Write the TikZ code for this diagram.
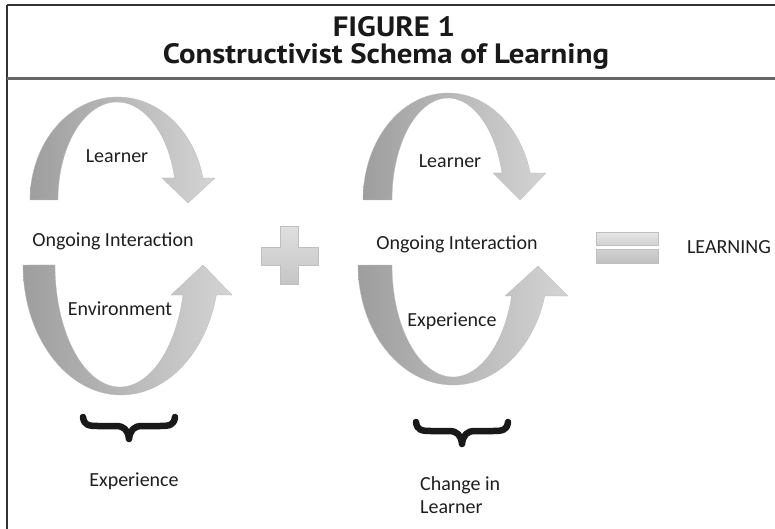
\documentclass[tikz,border=0pt]{standalone}
\usepackage{fontspec}
\setmainfont{Carlito}
\newfontfamily\titlefont[FakeStretch=1.1]{PT Sans}
\definecolor{adark}{HTML}{9E9E9E}
\definecolor{alight}{HTML}{D4D4D4}
\definecolor{rule}{HTML}{666666}
\tikzset{
  lbl/.style={font=\fontsize{20}{24}\selectfont, inner sep=0pt, anchor=base, text=black!88},
  ttl/.style={font=\titlefont\bfseries\fontsize{28}{32}\selectfont, inner sep=0pt, anchor=base, text=black!90},
  ribbon/.style={left color=adark, right color=alight, draw=gray!55, line width=0.3pt},
  opsign/.style={top color=gray!25, bottom color=gray!45, draw=gray!50, line width=0.4pt},
  bracestroke/.style={line width=6.5pt, line cap=round, line join=round, draw=black!90},
}
\begin{document}
\begin{tikzpicture}[x=1pt,y=1pt]
\useasboundingbox (0,0) rectangle (775,-529);
% frame
\draw[line width=2pt, black!80] (7,-5) -- (775,-5);
\draw[line width=1.5pt, black!80] (7,-5) -- (7,-529);
\draw[line width=3pt, rule] (7,-79) -- (775,-79);
% title
\node[ttl] (fig) at (394,-37) {FIGURE 1};
\node[ttl] (title) at (386,-64) {Constructivist Schema of Learning};
% left upper ribbon arrow
\path[ribbon] (30,-200) arc[start angle=180, end angle=12.3, x radius=87.5, y radius=103]
  -- (215,-178) -- (188,-203) -- (162,-178) -- (174.5,-178)
  arc[start angle=12.97, end angle=180, x radius=59, y radius=98] -- cycle;
% left lower ribbon arrow
\path[ribbon] (23,-265) arc[start angle=180, end angle=346.66, x radius=98, y radius=130]
  -- (232,-295) -- (203,-265) -- (171,-295) -- (183,-295)
  arc[start angle=345.76, end angle=180, x radius=65, y radius=122] -- cycle;
% right upper ribbon arrow
\path[ribbon] (363,-200) arc[start angle=180, end angle=14.6, x radius=85, y radius=107]
  -- (546,-173) -- (520,-200) -- (493,-173) -- (502,-173)
  arc[start angle=15.35, end angle=180, x radius=56, y radius=102] -- cycle;
% right lower ribbon arrow
\path[ribbon] (358,-265) arc[start angle=180, end angle=345.03, x radius=95, y radius=120]
  -- (568,-296) -- (538,-266) -- (505,-296) -- (511.6,-296)
  arc[start angle=343.93, end angle=180, x radius=61, y radius=112] -- cycle;
% plus
\path[opsign] (280,-226) -- (298,-226) -- (298,-247) -- (318,-247) -- (318,-265) -- (298,-265)
  -- (298,-284) -- (280,-284) -- (280,-265) -- (261,-265) -- (261,-247) -- (280,-247) -- cycle;
% equals
\path[opsign, top color=gray!20, bottom color=gray!35] (596,-232) rectangle (658,-245);
\path[opsign, top color=gray!35, bottom color=gray!50] (596,-249) rectangle (658,-263);
% labels
\node[lbl] (learnerA) at (117,-163) {Learner};
\node[lbl] (oiA) at (113,-246) {Ongoing Interaction};
\node[lbl] (envA) at (120,-315) {Environment};
\node[lbl] (learnerB) at (450,-168) {Learner};
\node[lbl] (oiB) at (457,-249) {Ongoing Interaction};
\node[lbl] (expB) at (452,-326) {Experience};
\node[lbl] (learning) at (729,-253) {LEARNING};
% braces
\draw[bracestroke] (83,-417) .. controls (84,-425) and (88,-426) .. (98,-426) -- (116,-426)
  .. controls (124,-426) and (128,-430) .. (129,-439) .. controls (130,-430) and (134,-426) .. (142,-426)
  -- (160,-426) .. controls (170,-426) and (174,-425) .. (175,-417);
\begin{scope}[shift={(333,-5)}]
\draw[bracestroke] (83,-417) .. controls (84,-425) and (88,-426) .. (98,-426) -- (116,-426)
  .. controls (124,-426) and (128,-430) .. (129,-439) .. controls (130,-430) and (134,-426) .. (142,-426)
  -- (160,-426) .. controls (170,-426) and (174,-425) .. (175,-417);
\end{scope}
\node[lbl] (expC) at (134,-486) {Experience};
\node[lbl, anchor=base west] (chg) at (420,-490) {Change in};
\node[lbl, anchor=base west] (chg2) at (420,-513) {Learner};
\end{tikzpicture}
\end{document}
